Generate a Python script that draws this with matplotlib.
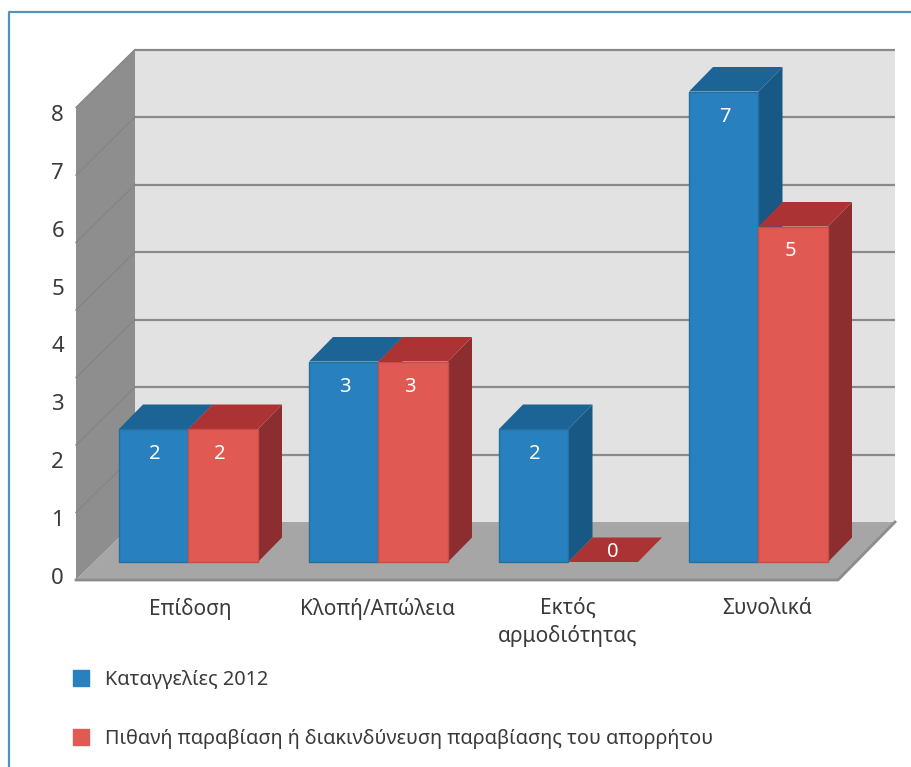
# -*- coding: utf-8 -*-
import matplotlib
matplotlib.use('Agg')
import matplotlib.pyplot as plt
from matplotlib.lines import Line2D
from matplotlib.patches import Polygon

categories = ['Επίδοση', 'Κλοπή/Απώλεια', 'Εκτός\nαρμοδιότητας', 'Συνολικά']
complaints = [2, 3, 2, 7]
violations = [2, 3, 0, 5]
axis_labels = ['0', '1', '2', '3', '4', '5', '6', '7', '8']
legend_labels = ['Καταγγελίες 2012',
                 'Πιθανή παραβίαση ή διακινδύνευση παραβίασης του απορρήτου']

plt.rcParams['font.family'] = ['Noto Sans', 'DejaVu Sans']
TEXT = '#3a3a3a'
W, H = 912, 767
X_UNIT, Y_UNIT = 190.0, 67.5     # pixels per category and per bar value
X0, Y0 = 188.5, 564.0            # pixel position of first category centre, value 0

fig = plt.figure(figsize=(W / 100, H / 100), dpi=100)
ax = fig.add_axes([0, 0, 1, 1])
ax.set_xlim(-X0 / X_UNIT, (W - X0) / X_UNIT)
ax.set_ylim((Y0 - H) / Y_UNIT, Y0 / Y_UNIT)
ax.axis('off')

bar_w = 69.5 / X_UNIT
dx, dy = 24 / X_UNIT, 24.5 / Y_UNIT
base = 2 / Y_UNIT   # bars stand slightly above the zero line

# chart box: wall and floor depth / extents
left = (76 - X0) / X_UNIT
back = (135 - X0) / X_UNIT
right = (895 - X0) / X_UNIT
front_right = (838 - X0) / X_UNIT
floor_back = (Y0 - 522) / Y_UNIT
floor_front = (Y0 - 580) / Y_UNIT
n_grid = 7


def poly(pts, color, z=1, ec='none', lw=0):
    ax.add_patch(Polygon(pts, closed=True, fc=color, ec=ec, lw=lw, zorder=z))


def bar3d(x, v, front, top, side, edge):
    x1 = x + bar_w
    v = max(v, base)
    poly([(x1, base), (x1 + dx, base + dy), (x1 + dx, v + dy), (x1, v)], side, 5)
    poly([(x, v), (x1, v), (x1 + dx, v + dy), (x + dx, v + dy)], top, 5)
    if v > base:
        poly([(x, base), (x1, base), (x1, v), (x, v)], front, 6, edge, 1)


# back wall
poly([(back, floor_back), (right, floor_back), (right, floor_back + n_grid),
      (back, floor_back + n_grid)], '#e2e2e2', 1)
# left wall
poly([(back, floor_back), (back, floor_back + n_grid), (left, floor_front + n_grid),
      (left, floor_front)], '#8e8e8e', 2)
# floor
poly([(left, floor_front), (back, floor_back), (right, floor_back),
      (front_right, floor_front)], '#a6a6a6', 3)
ax.plot([left, front_right, right], [floor_front] * 2 + [floor_back],
        color='#8c8c8c', lw=2, zorder=3)

for k in range(1, n_grid + 1):
    ax.plot([back, right], [floor_back + k] * 2, color='#8a8a8a', lw=1.6, zorder=2,
            solid_capstyle='butt')
    ax.plot([left, back], [floor_front + k, floor_back + k], color='#858585', lw=1,
            zorder=2)

label_shift = [2, -1, -1, 9]   # labels are not quite centred in the original
for i in range(len(categories)):
    x_blue = i - bar_w
    bar3d(x_blue, complaints[i], '#2980be', '#1d6496', '#175885', '#23709f')
    bar3d(i, violations[i], '#e05a53', '#ac3333', '#8c2e30', '#c94d48')

    ax.text(x_blue + bar_w / 2 + 1 / X_UNIT, complaints[i] - 25 / Y_UNIT, str(complaints[i]),
            color='white', fontsize=14.5, ha='center', va='center', zorder=7)
    if violations[i] > 0:
        ax.text(i + bar_w / 2 - 3 / X_UNIT, violations[i] - 25 / Y_UNIT, str(violations[i]),
                color='white', fontsize=14.5, ha='center', va='center', zorder=7)
    else:
        ax.text(i + bar_w / 2 + dx / 2 - 2 / X_UNIT, base + dy / 2 - 2 / Y_UNIT, str(violations[i]),
                color='white', fontsize=14.5, ha='center', va='center', zorder=7)

    ax.text(i + label_shift[i] / X_UNIT, (Y0 - 598) / Y_UNIT, categories[i], color=TEXT,
            fontsize=15, ha='center', va='top', linespacing=1.35, zorder=7)

# the tick numbers run on their own, tighter scale than the bars
ax_left = fig.add_axes([64 / W, (H - 576) / H, 8 / W, (576 - 113) / H])
ax_left.set_ylim(0, 8)
ax_left.set_xticks([])
ax_left.set_yticks(range(len(axis_labels)), axis_labels, fontsize=16, color=TEXT)
ax_left.tick_params(axis='y', length=0, pad=0)
ax_left.patch.set_visible(False)
for s in ax_left.spines.values():
    s.set_visible(False)

handles = [Line2D([], [], marker='s', ls='none', ms=11.5, color='#2980be'),
           Line2D([], [], marker='s', ls='none', ms=11.5, color='#e05a53')]
ax.legend(handles, legend_labels, loc='upper left', bbox_to_anchor=(69 / W, 1 - 670 / H),
          bbox_transform=fig.transFigure, frameon=False, fontsize=14.3,
          labelcolor=TEXT, labelspacing=1.95, handletextpad=0.6, handlelength=1.2,
          borderpad=0, borderaxespad=0)

# outer frame: left and top only, top runs off the page
frame_x = (9 - X0) / X_UNIT
frame_y = (Y0 - 11.5) / Y_UNIT
ax.plot([frame_x, frame_x, (W - X0) / X_UNIT], [(Y0 - H) / Y_UNIT, frame_y, frame_y],
        color='#4f93ba', lw=1.6, zorder=8)

fig.savefig('out.png', dpi=100)
